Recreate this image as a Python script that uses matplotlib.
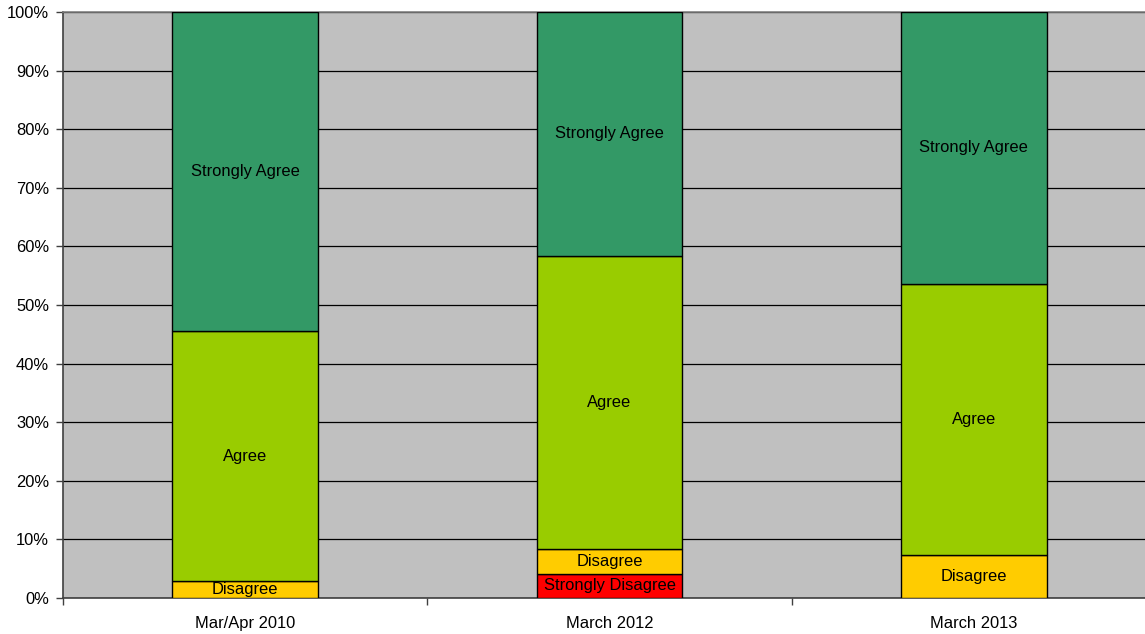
import matplotlib
matplotlib.use("Agg")
import matplotlib.pyplot as plt
import numpy as np

categories = ["Mar/Apr 2010", "March 2012", "March 2013"]
series_names = ["Strongly Disagree", "Disagree", "Agree", "Strongly Agree"]
strongly_disagree = [0.0, 4.1, 0.0]
disagree = [2.9, 4.3, 7.3]
agree = [42.6, 50.0, 46.3]
strongly_agree = [54.5, 41.6, 46.4]
colors = ["#FF0000", "#FFCC00", "#99CC00", "#339966"]

plt.rcParams['font.family'] = ['Liberation Sans', 'DejaVu Sans']

fig = plt.figure(figsize=(11.45, 6.34), dpi=100)
ax = fig.add_axes([63/1145, 1 - 598/634, (1156 - 63)/1145, (598 - 12)/634])
ax.set_facecolor("#C0C0C0")

x = np.arange(len(categories))
width = 0.4
bottom = np.zeros(len(categories))
for name, vals, col in zip(series_names, [strongly_disagree, disagree, agree, strongly_agree], colors):
    vals = np.array(vals)
    ax.bar(x, vals, width, bottom=bottom, color=col, edgecolor="black", linewidth=1.0, zorder=3)
    for xi, v, b in zip(x, vals, bottom):
        if v > 0:
            ax.text(xi, b + v / 2, name, ha="center", va="center", fontsize=11.9, color="black", zorder=4)
    bottom += vals

ax.set_xlim(-0.5, 2.5)
ax.set_ylim(0, 100)
ax.set_yticks(np.arange(0, 101, 10))
ax.set_yticklabels([f"{v}%" for v in range(0, 101, 10)], fontsize=11.9)
ax.yaxis.grid(True, color="black", linewidth=0.9, zorder=1)
ax.set_axisbelow(True)

ax.set_xticks(x)
ax.set_xticklabels(categories, fontsize=11.9)
ax.tick_params(axis="x", which="major", length=0, pad=13)
ax.set_xticks([-0.5, 0.5, 1.5], minor=True)
ax.tick_params(axis="x", which="minor", length=5, width=1, color="#404040", direction="out")
ax.tick_params(axis="y", length=5, width=1, color="#404040", direction="out", pad=5)

for s in ["left", "bottom"]:
    ax.spines[s].set_color("#404040")
    ax.spines[s].set_linewidth(1.2)
ax.spines["top"].set_color("#808080")
ax.spines["top"].set_linewidth(1.2)
ax.spines["right"].set_visible(False)

fig.savefig("out.png", dpi=100)
